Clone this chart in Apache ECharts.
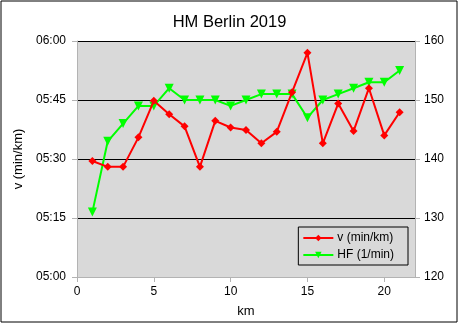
<!DOCTYPE html>
<html>
<head>
<meta charset="utf-8">
<script src="https://cdn.jsdelivr.net/npm/echarts@6/dist/echarts.min.js"></script>
<style>
  html, body { margin: 0; padding: 0; background: #fff; }
  #chart { width: 459px; height: 324px; }
</style>
</head>
<body>
<div id="chart"></div>
<script>
// Half marathon splits: distance, pace (seconds per km) and heart rate per km
const km = [1, 2, 3, 4, 5, 6, 7, 8, 9, 10, 11, 12, 13, 14, 15, 16, 17, 18, 19, 20, 21];
const paceSec = [329.5, 328, 328, 335.5, 344.8, 341.4, 338.3, 328, 339.7, 338, 337.4, 334,
                 336.9, 347, 357, 334, 344.1, 337.1, 348, 336, 341.9];
const heartRate = [131, 143, 146, 149, 149, 152, 150, 150, 150, 149, 150, 151,
                   151, 151, 147, 150, 151, 152, 153, 153, 155];
const paceTicks = [300, 315, 330, 345, 360];
const hrTicks = [120, 130, 140, 150, 160];
const kmTicks = [0, 5, 10, 15, 20];

const FONT = '"Liberation Sans", Arial, sans-serif';
const axisGray = '#b3b3b3';

function mmss(v) {
  const m = Math.floor(v / 60);
  const s = Math.round(v - m * 60);
  return String(m).padStart(2, '0') + ':' + String(s).padStart(2, '0');
}

const chart = echarts.init(document.getElementById('chart'), null, { renderer: 'canvas' });

chart.setOption({
  animation: false,
  backgroundColor: '#ffffff',
  title: {
    text: 'HM Berlin 2019',
    left: 'center',
    top: 9,
    textStyle: { fontFamily: FONT, fontSize: 16.5, fontWeight: 'normal', color: '#000' }
  },
  graphic: [{
    type: 'rect',
    shape: { x: 1, y: 1, width: 456, height: 321 },
    style: { fill: 'none', stroke: '#000', lineWidth: 1 },
    silent: true
  }],
  grid: {
    left: 77, right: 44, top: 41, bottom: 47,
    show: true, backgroundColor: '#d9d9d9', borderWidth: 0
  },
  legend: {
    right: 51, bottom: 59,
    orient: 'vertical',
    itemWidth: 30, itemHeight: 8, itemGap: 5,
    padding: [5, 14, 4, 4],
    borderColor: '#000', borderWidth: 1,
    textStyle: { fontFamily: FONT, fontSize: 12, color: '#000', padding: [0, 0, 0, -1] },
    data: ['v (min/km)', 'HF (1/min)']
  },
  xAxis: {
    type: 'value',
    min: 0, max: 22, interval: 5,
    name: 'km', nameLocation: 'middle', nameGap: 28,
    nameTextStyle: { fontFamily: FONT, fontSize: 13, color: '#000' },
    axisLine: { show: true, lineStyle: { color: axisGray, width: 1 } },
    axisTick: { show: true, length: 5, lineStyle: { color: axisGray } },
    axisLabel: {
      fontFamily: FONT, fontSize: 12, color: '#000', margin: 9, showMaxLabel: false,
      formatter: v => (kmTicks.indexOf(v) >= 0 ? String(v) : '')
    },
    splitLine: { show: false }
  },
  yAxis: [{
    type: 'value',
    min: paceTicks[0], max: paceTicks[paceTicks.length - 1], interval: 15,
    position: 'left',
    name: 'v (min/km)', nameLocation: 'middle', nameGap: 50, nameRotate: 90,
    nameTextStyle: { fontFamily: FONT, fontSize: 13, color: '#000' },
    axisLine: { show: true, lineStyle: { color: axisGray, width: 1 } },
    axisTick: { show: true, length: 5, lineStyle: { color: axisGray } },
    axisLabel: { fontFamily: FONT, fontSize: 12, color: '#000', margin: 11, formatter: mmss },
    splitLine: { show: true, lineStyle: { color: '#000', width: 1 } }
  }, {
    type: 'value',
    min: hrTicks[0], max: hrTicks[hrTicks.length - 1], interval: 10,
    position: 'right',
    axisLine: { show: true, lineStyle: { color: axisGray, width: 1 } },
    axisTick: { show: true, length: 5, lineStyle: { color: axisGray } },
    axisLabel: { fontFamily: FONT, fontSize: 12, color: '#000', margin: 9 },
    splitLine: { show: false }
  }],
  series: [{
    name: 'v (min/km)',
    type: 'line',
    yAxisIndex: 0,
    data: km.map((k, i) => [k, paceSec[i]]),
    symbol: 'diamond', symbolSize: 8,
    lineStyle: { color: '#ff0000', width: 2 },
    itemStyle: { color: '#ff0000' },
    z: 3
  }, {
    name: 'HF (1/min)',
    type: 'line',
    yAxisIndex: 1,
    data: km.map((k, i) => [k, heartRate[i]]),
    symbol: 'triangle', symbolRotate: 180, symbolSize: 9,
    lineStyle: { color: '#00ff00', width: 2 },
    itemStyle: { color: '#00ff00' },
    z: 2
  }]
});
</script>
</body>
</html>
